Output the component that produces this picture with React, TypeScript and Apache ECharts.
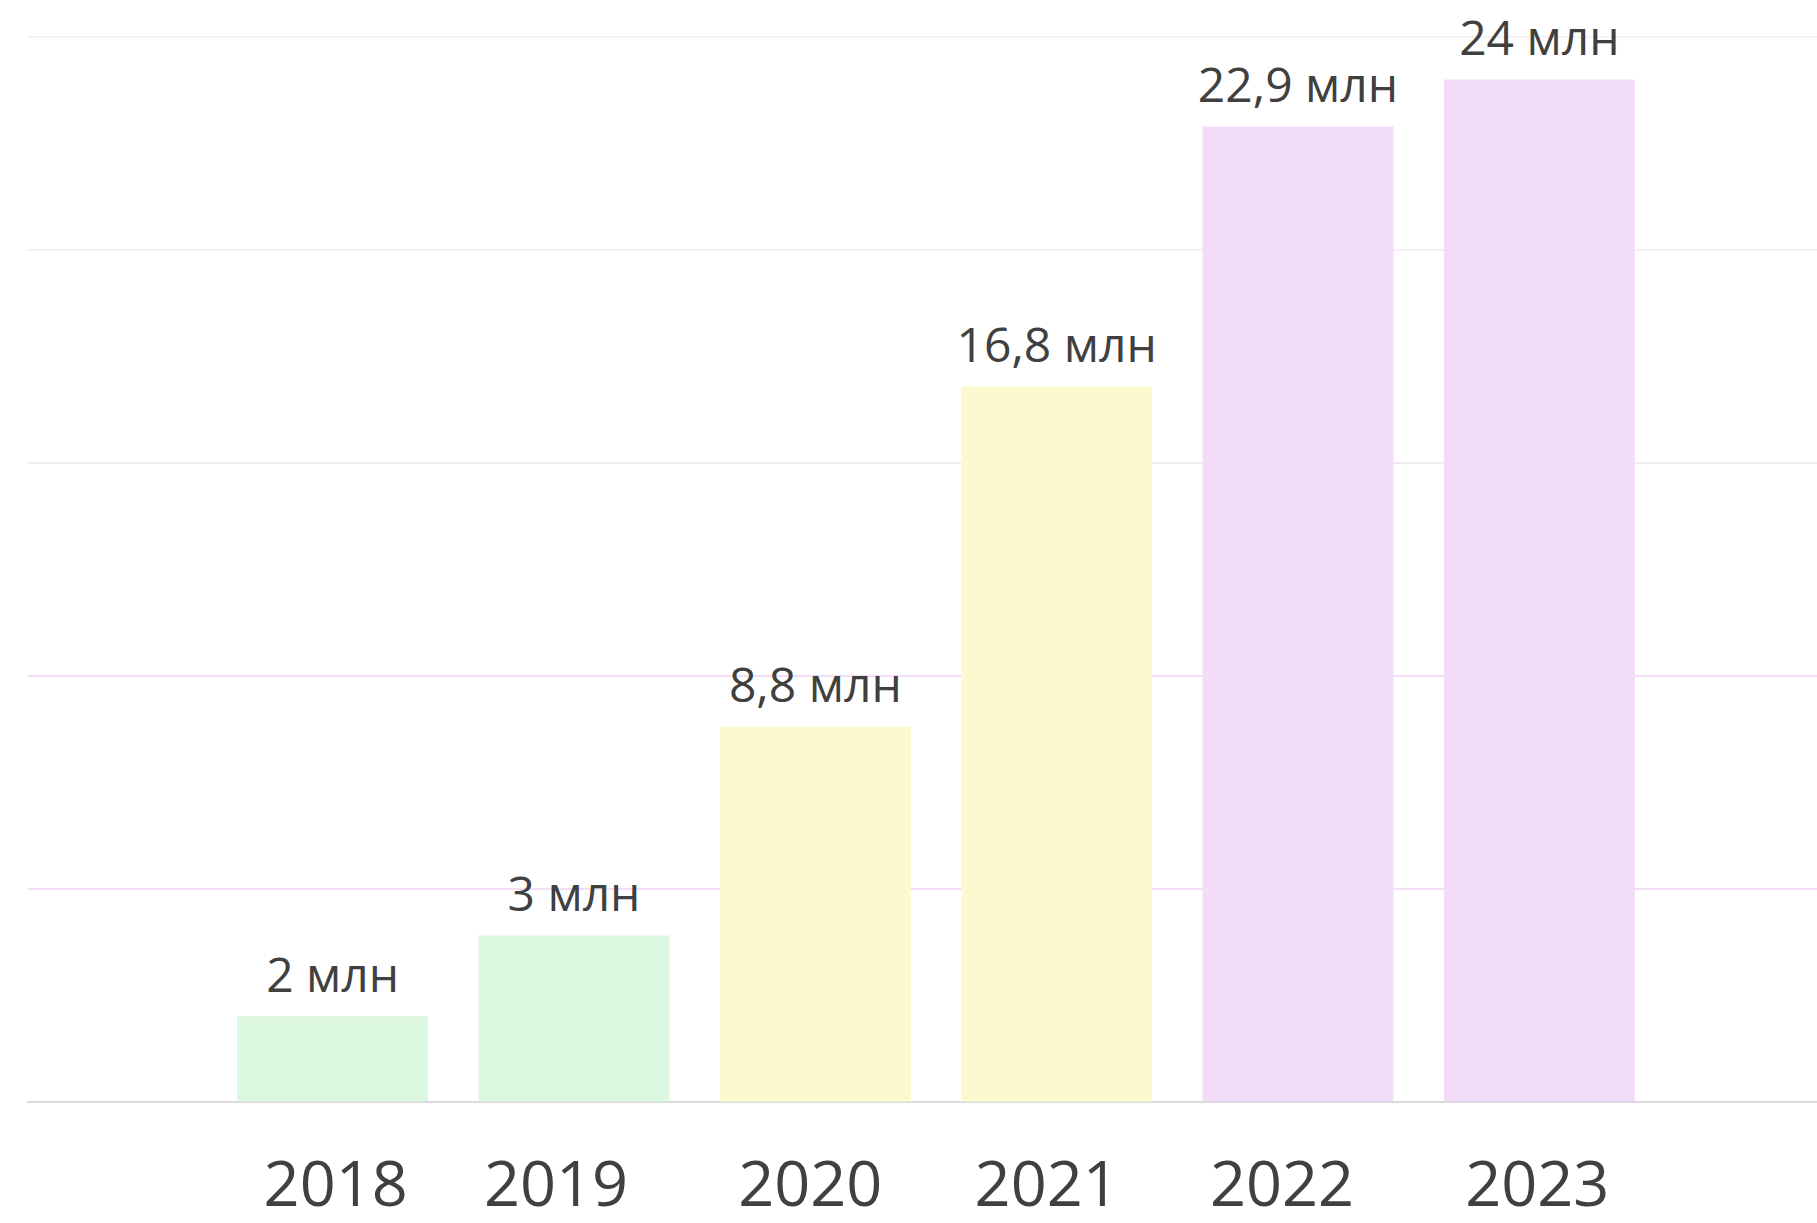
import React, { useEffect, useRef } from "react";
import * as echarts from "echarts";

const YEARS = ["2018", "2019", "2020", "2021", "2022", "2023"];
const VALUES = [2, 3.9, 8.8, 16.8, 22.9, 24];
const VALUE_LABELS = ["2 млн", "3 млн", "8,8 млн", "16,8 млн", "22,9 млн", "24 млн"];
const Y_MAX = 25;
const Y_STEP = 5;

// styling (kept apart from the data)
const BAR_COLORS = ["#dcf8e0", "#dcf8e0", "#fcf9cf", "#fcf9cf", "#f2dcf8", "#f2dcf8"];
const YEAR_LABEL_NUDGE = [3, -18, -5, -10, -16, -2];
const FONT = "'Open Sans', sans-serif";
const TEXT = "#404040";

export default function App() {
  const ref = useRef<HTMLDivElement>(null);
  useEffect(() => {
    if (!ref.current) return;
    const chart = echarts.init(ref.current, null, { renderer: "svg" });
    const rich: Record<string, any> = {};
    YEAR_LABEL_NUDGE.forEach((n, i) => {
      rich["y" + i] = {
        color: TEXT,
        fontFamily: FONT,
        fontSize: 63,
        lineHeight: 50,
        padding: n >= 0 ? [0, 0, 0, 2 * n] : [0, -2 * n, 0, 0],
      };
    });
    chart.setOption({
      animation: false,
      backgroundColor: "#ffffff",
      grid: [
        { left: 28, right: 0, top: 37, bottom: 121.5 },
        { left: 212, right: 157, top: 37, bottom: 121.5 },
      ],
      xAxis: [
        {
          gridIndex: 0,
          type: "value",
          min: 0,
          max: 1,
          axisLine: { show: true, onZero: false, lineStyle: { color: "#d9d9d9", width: 2 } },
          axisTick: { show: false },
          axisLabel: { show: false },
          splitLine: { show: false },
        },
        {
          gridIndex: 1,
          type: "category",
          data: YEARS,
          axisLine: { show: false },
          axisTick: { show: false },
          axisLabel: {
            interval: 0,
            color: TEXT,
            fontFamily: FONT,
            fontSize: 63,
            lineHeight: 50,
            margin: 55,
            formatter: (v: string, i: number) => `{y${i}|${v}}`,
            rich,
          },
        },
      ],
      yAxis: [
        {
          gridIndex: 0,
          type: "value",
          min: 0,
          max: Y_MAX,
          interval: Y_STEP,
          axisLine: { show: false },
          axisTick: { show: false },
          axisLabel: { show: false },
          splitLine: {
            show: true,
            lineStyle: {
              width: 2,
              color: ["#ffffff", "#f2dff5", "#f2dff5", "#f3e9f4", "#f6f0f6", "#f8f2f8"],
            },
          },
        },
        {
          gridIndex: 1,
          type: "value",
          min: 0,
          max: Y_MAX,
          interval: Y_STEP,
          show: false,
          splitLine: { show: false },
        },
      ],
      series: [
        {
          type: "bar",
          xAxisIndex: 1,
          yAxisIndex: 1,
          data: VALUES,
          barWidth: 191,
          itemStyle: {
            color: (p: any) => BAR_COLORS[p.dataIndex],
          },
          label: {
            show: true,
            position: "top",
            distance: 19,
            color: TEXT,
            fontFamily: FONT,
            fontSize: 48,
            formatter: (p: any) => VALUE_LABELS[p.dataIndex],
          },
        },
      ],
    });
    return () => chart.dispose();
  }, []);
  return (
    <div
      ref={ref}
      style={{ position: "fixed", left: 0, top: 0, width: 1817, height: 1223, background: "#fff" }}
    />
  );
}
